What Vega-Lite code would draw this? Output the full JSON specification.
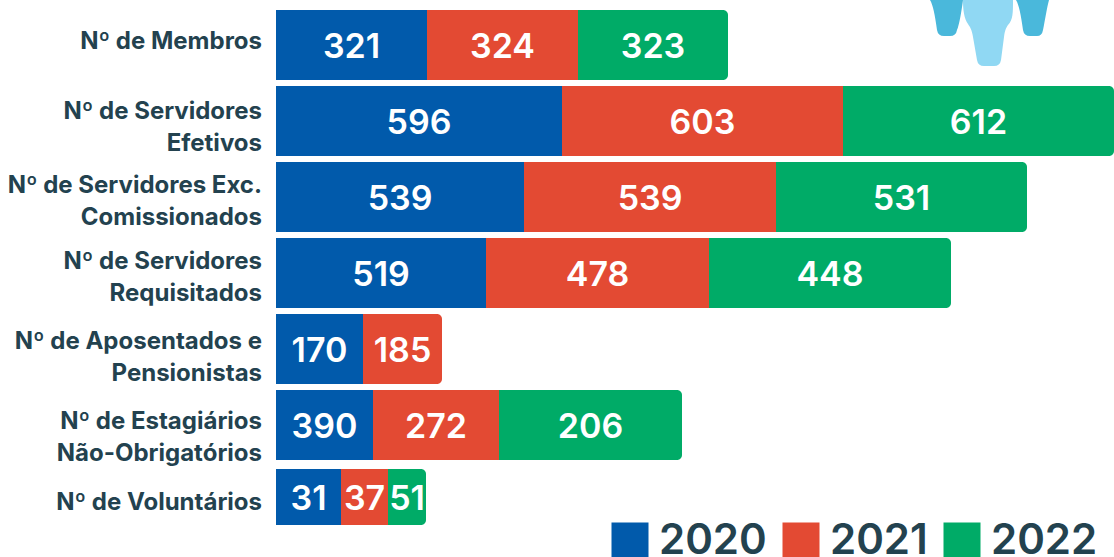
{
"$schema":"https://vega.github.io/schema/vega-lite/v6.json",
"width":1114,"height":557,"padding":0,"autosize":{"type":"none"},
"background":"white",
"config":{"view":{"stroke":null}},
"data":{"values":[
{"categoria":"Nº de Membros","ano":"2020","valor":321,"comprimento":151},
{"categoria":"Nº de Membros","ano":"2021","valor":324,"comprimento":151},
{"categoria":"Nº de Membros","ano":"2022","valor":323,"comprimento":150},
{"categoria":"Nº de Servidores|Efetivos","ano":"2020","valor":596,"comprimento":286},
{"categoria":"Nº de Servidores|Efetivos","ano":"2021","valor":603,"comprimento":281},
{"categoria":"Nº de Servidores|Efetivos","ano":"2022","valor":612,"comprimento":271},
{"categoria":"Nº de Servidores Exc.|Comissionados","ano":"2020","valor":539,"comprimento":248},
{"categoria":"Nº de Servidores Exc.|Comissionados","ano":"2021","valor":539,"comprimento":252},
{"categoria":"Nº de Servidores Exc.|Comissionados","ano":"2022","valor":531,"comprimento":251},
{"categoria":"Nº de Servidores|Requisitados","ano":"2020","valor":519,"comprimento":210},
{"categoria":"Nº de Servidores|Requisitados","ano":"2021","valor":478,"comprimento":223},
{"categoria":"Nº de Servidores|Requisitados","ano":"2022","valor":448,"comprimento":242},
{"categoria":"Nº de Aposentados e|Pensionistas","ano":"2020","valor":170,"comprimento":87},
{"categoria":"Nº de Aposentados e|Pensionistas","ano":"2021","valor":185,"comprimento":79},
{"categoria":"Nº de Estagiários|Não-Obrigatórios","ano":"2020","valor":390,"comprimento":97},
{"categoria":"Nº de Estagiários|Não-Obrigatórios","ano":"2021","valor":272,"comprimento":126},
{"categoria":"Nº de Estagiários|Não-Obrigatórios","ano":"2022","valor":206,"comprimento":183},
{"categoria":"Nº de Voluntários","ano":"2020","valor":31,"comprimento":65},
{"categoria":"Nº de Voluntários","ano":"2021","valor":37,"comprimento":47},
{"categoria":"Nº de Voluntários","ano":"2022","valor":51,"comprimento":38}
]},
"transform":[
{"stack":"comprimento","groupby":["categoria"],"sort":[{"field":"ano","order":"ascending"}],"as":["x0","x1"]},
{"joinaggregate":[{"op":"max","field":"x1","as":"fim"}],"groupby":["categoria"]},
{"calculate":"(datum.x0+datum.x1)/2","as":"meio"}
],
"encoding":{
"y":{"field":"categoria","type":"nominal","axis":null,"sort":null,
"scale":{"type":"band","domain":["Nº de Membros","Nº de Servidores|Efetivos","Nº de Servidores Exc.|Comissionados","Nº de Servidores|Requisitados","Nº de Aposentados e|Pensionistas","Nº de Estagiários|Não-Obrigatórios","Nº de Voluntários"],"range":[7,539],"paddingInner":0,"paddingOuter":0}}
},
"layer":[
{"transform":[{"filter":"datum.x1<datum.fim"}],
"mark":{"type":"bar","yOffset":{"expr":"datum.categoria==='Nº de Voluntários'?-4:0"}},
"encoding":{
"x":{"field":"x0","type":"quantitative","axis":null,"scale":{"domain":[-276,838],"range":[0,1114],"nice":false,"zero":false}},
"x2":{"field":"x1"},
"size":{"condition":{"test":"datum.categoria==='Nº de Voluntários'","value":56},"value":70},
"color":{"field":"ano","type":"nominal","scale":{"domain":["2020","2021","2022"],"range":["#015AAB","#E34A33","#00AB67"]},
"legend":{"title":null,"orient":"none","legendX":609,"legendY":520,"direction":"horizontal","symbolType":"square","symbolSize":1369,"symbolStrokeWidth":0,"labelFontSize":42,"labelFont":"Inter","labelFontWeight":600,"labelColor":"#23424F","labelOffset":8,"columnPadding":13,"gridAlign":"none","padding":0,"symbolOpacity":1}}
}},
{"transform":[{"filter":"datum.x1==datum.fim"}],
"mark":{"type":"bar","cornerRadiusTopRight":5,"cornerRadiusBottomRight":5,"yOffset":{"expr":"datum.categoria==='Nº de Voluntários'?-4:0"}},
"encoding":{
"x":{"field":"x0","type":"quantitative"},
"x2":{"field":"x1"},
"size":{"condition":{"test":"datum.categoria==='Nº de Voluntários'","value":56},"value":70},
"color":{"field":"ano","type":"nominal"}
}},
{"mark":{"type":"text","font":"Inter","fontWeight":600,"fontSize":34,"color":"white","align":"center","baseline":"middle","dy":{"expr":"datum.categoria==='Nº de Voluntários'?-1:3"}},
"encoding":{"x":{"field":"meio","type":"quantitative"},"text":{"field":"valor","type":"quantitative"}}},
{"transform":[{"filter":"datum.ano==='2020'"}],
"mark":{"type":"text","font":"Inter","fontWeight":700,"fontSize":24,"color":"#23424F","align":"right","baseline":"middle","lineBreak":"|","lineHeight":32,
"dy":{"expr":"{'Nº de Membros':-3,'Nº de Servidores|Efetivos':-9,'Nº de Servidores Exc.|Comissionados':-11,'Nº de Servidores|Requisitados':-11,'Nº de Aposentados e|Pensionistas':-7,'Nº de Estagiários|Não-Obrigatórios':-3,'Nº de Voluntários':2}[datum.categoria]"}},
"encoding":{"x":{"datum":-14,"type":"quantitative"},"text":{"field":"categoria","type":"nominal"}}},
{"transform":[{"filter":"datum.categoria==='Nº de Membros' && datum.ano==='2020'"}],
"mark":{"type":"point","filled":true,"opacity":1,"size":4,"color":"#4AB8DB",
"shape":"M-70,-45 L-37,-45 C-39,-30 -41,-20 -43,-15 Q-44,-9 -50,-9 L-56,-9 Q-62,-9 -63,-15 C-65,-30 -67,-40 -70,-45 Z M16,-45 L49,-45 C47,-38 45,-25 43,-15 Q42,-9 37,-9 L30,-9 Q24,-9 23,-15 C21,-30 19,-40 16,-45 Z"},
"encoding":{"x":{"datum":724,"type":"quantitative"}}},
{"transform":[{"filter":"datum.categoria==='Nº de Membros' && datum.ano==='2020'"}],
"mark":{"type":"point","filled":true,"opacity":1,"size":4,"color":"#90D8F3",
"shape":"M-37,-45 L13,-45 C13,-32 13,-25 8,-20 C6,-17 5,-15 4,-8 L1,15 Q0,21 -6,21 L-16,21 Q-22,21 -23,15 L-27,-8 C-28,-15 -30,-18 -32,-21 C-36,-27 -37,-35 -37,-45 Z"},
"encoding":{"x":{"datum":724,"type":"quantitative"}}}
]
}
